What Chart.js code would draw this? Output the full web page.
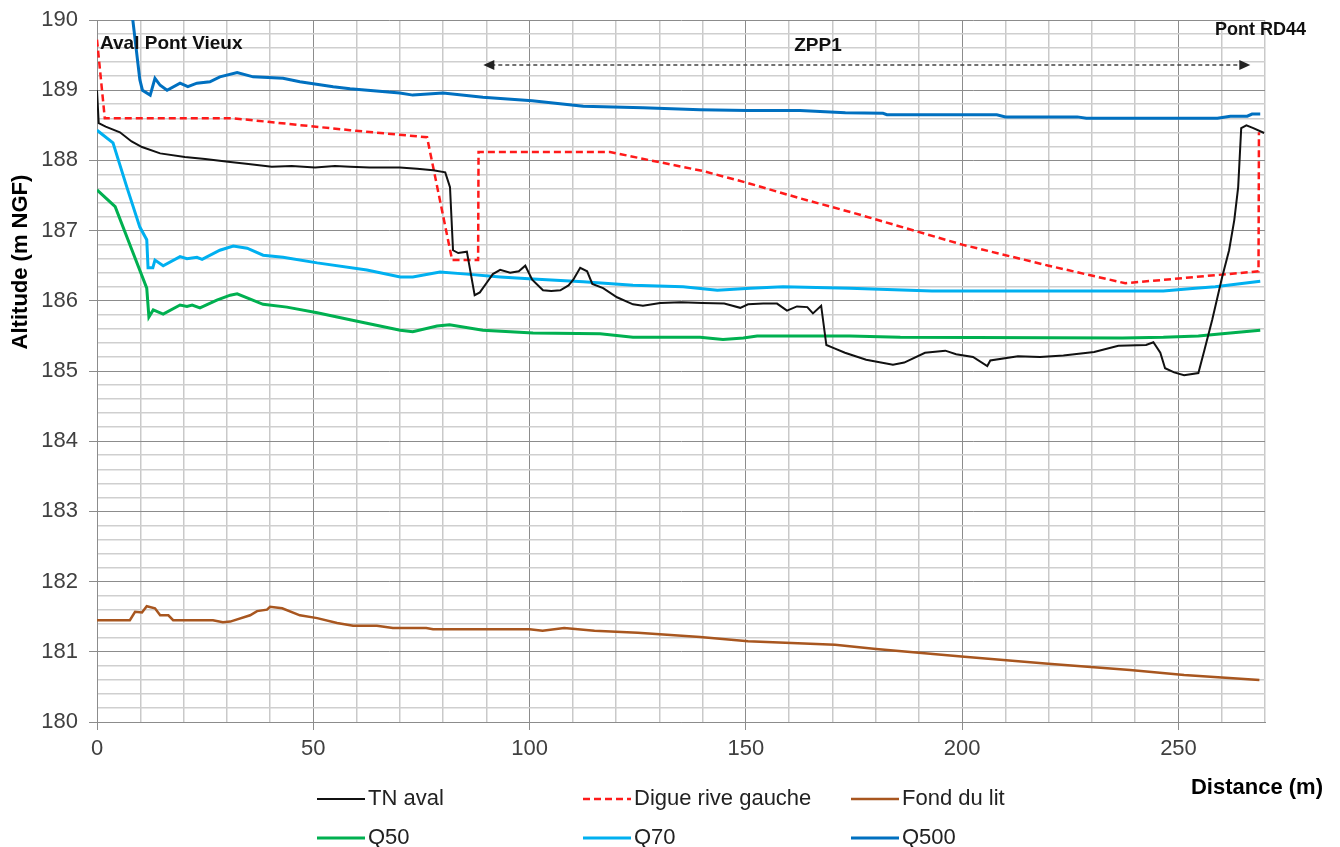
<!DOCTYPE html>
<html lang="fr">
<head>
<meta charset="UTF-8">
<title>Profil en long</title>
<script src="https://cdn.jsdelivr.net/npm/chart.js"></script>
<style>
  body { margin: 0; background: #fff; }
  canvas { display: block; }
</style>
</head>
<body>
<canvas id="profil" width="1340" height="847"></canvas>
<script>
// TN aval
const tnX = [0, 0.4, 2, 5.3, 8, 10.4, 14.6, 20.3, 25, 30.3, 35, 40.4, 45, 50.4, 55, 58.5, 63, 70, 74, 77.7, 80.5, 81.6, 82.3, 83.5, 85.5, 87.3, 88.5, 90, 91.5, 93.2, 95.5, 97.5, 99, 100.6, 103.1, 105, 107.1, 109, 110.1, 111.7, 113.3, 114.5, 117, 120.2, 123.9, 126.2, 130.2, 135, 140, 145, 148.7, 150.5, 154, 157.2, 159.5, 161.8, 164.2, 165.5, 167.4, 168.6, 170.2, 172.9, 177.8, 184, 186.6, 191.4, 196.1, 198.6, 202.5, 205.8, 206.5, 212.9, 218, 223.4, 230.5, 236.1, 242.5, 244.2, 245.8, 246.9, 249, 251.3, 254.6, 256, 257.8, 260.1, 261.7, 262.9, 263.8, 264.5, 265.7, 267.3, 269.8];
const tnY = [189.0, 188.53, 188.48, 188.4, 188.27, 188.19, 188.1, 188.05, 188.02, 187.98, 187.95, 187.91, 187.92, 187.9, 187.92, 187.91, 187.9, 187.9, 187.88, 187.86, 187.83, 187.62, 186.72, 186.68, 186.7, 186.08, 186.12, 186.25, 186.38, 186.44, 186.4, 186.42, 186.5, 186.3, 186.15, 186.14, 186.15, 186.22, 186.3, 186.47, 186.42, 186.24, 186.18, 186.05, 185.95, 185.93, 185.97, 185.98, 185.97, 185.96, 185.9, 185.95, 185.96, 185.96, 185.86, 185.92, 185.91, 185.82, 185.93, 185.37, 185.33, 185.26, 185.16, 185.09, 185.12, 185.26, 185.29, 185.24, 185.2, 185.07, 185.15, 185.21, 185.2, 185.22, 185.27, 185.36, 185.37, 185.41, 185.26, 185.04, 184.98, 184.94, 184.97, 185.3, 185.73, 186.34, 186.72, 187.15, 187.62, 188.46, 188.5, 188.46, 188.39];

// Digue rive gauche
const digueX = [0, 1.8, 31.5, 58.5, 76.3, 82.1, 88.1, 88.2, 118.6, 128, 140, 150.3, 162.5, 175, 200, 220, 237.7, 268.5, 268.6];
const digueY = [189.72, 188.6, 188.6, 188.43, 188.33, 186.58, 186.58, 188.12, 188.12, 188.0, 187.85, 187.68, 187.46, 187.25, 186.8, 186.5, 186.25, 186.42, 188.4];

// Fond du lit
const fondX = [0, 7.6, 8.8, 10.4, 11.5, 13.4, 14.6, 16.5, 17.6, 26.8, 29.1, 30.8, 35.4, 37, 39.3, 40, 42.8, 46.9, 50.9, 55.5, 59.2, 64.7, 68.4, 76.1, 77.7, 100, 103, 108, 115, 125, 139.4, 150.5, 170.6, 180.1, 200.5, 219.9, 238.8, 251.3, 268.7];
const fondY = [181.45, 181.45, 181.57, 181.56, 181.65, 181.62, 181.52, 181.52, 181.45, 181.45, 181.42, 181.43, 181.52, 181.58, 181.6, 181.64, 181.62, 181.52, 181.48, 181.41, 181.37, 181.37, 181.34, 181.34, 181.32, 181.32, 181.3, 181.34, 181.3, 181.27, 181.21, 181.15, 181.1, 181.04, 180.93, 180.83, 180.74, 180.67, 180.6];

// Q50
const q50X = [0, 4.2, 8.1, 11.5, 12, 13, 15.3, 19.2, 20.8, 22, 23.8, 27.7, 30.8, 32.4, 38.4, 43.9, 50.9, 58.5, 70.1, 73, 78.6, 81.5, 89.2, 100.8, 116.3, 123.9, 139.4, 144.7, 149.4, 152.6, 174, 185.7, 237, 246.5, 254.6, 260.1, 268.9];
const q50Y = [187.58, 187.34, 186.72, 186.18, 185.77, 185.87, 185.81, 185.94, 185.92, 185.94, 185.9, 186.01, 186.08, 186.1, 185.95, 185.91, 185.83, 185.73, 185.58, 185.56, 185.64, 185.66, 185.58, 185.54, 185.53, 185.48, 185.48, 185.45, 185.47, 185.5, 185.5, 185.48, 185.47, 185.48, 185.5, 185.53, 185.58];

// Q70
const q70X = [0, 3.7, 6.9, 9.9, 11.5, 11.8, 12.9, 13.4, 15.3, 19.2, 20.8, 23.1, 24.3, 28.4, 31.5, 34.7, 38.4, 43, 50.9, 62.4, 70.1, 73, 79.3, 85.5, 93.2, 100.8, 112.4, 123.9, 135.5, 143.4, 151, 158.6, 174, 193, 246.5, 253.9, 258.5, 268.9];
const q70Y = [188.43, 188.25, 187.62, 187.05, 186.87, 186.47, 186.47, 186.58, 186.5, 186.63, 186.6, 186.62, 186.59, 186.72, 186.78, 186.75, 186.65, 186.62, 186.54, 186.44, 186.34, 186.34, 186.41, 186.38, 186.34, 186.31, 186.27, 186.22, 186.2, 186.15, 186.18, 186.2, 186.18, 186.14, 186.14, 186.18, 186.2, 186.28];

// Q500
const q500X = [7.8, 9.9, 10.5, 12.3, 13.4, 14.6, 16.2, 19.2, 21, 23.1, 26.1, 28.4, 32.4, 36.1, 43, 46.9, 54.6, 58.5, 70, 73, 80, 89.2, 100.6, 112.4, 126.2, 139.4, 150.3, 162.5, 173, 181.7, 182.6, 208, 210, 226.6, 228.7, 240, 259, 262, 265.9, 267, 268.9];
const q500Y = [190.25, 189.15, 189.0, 188.93, 189.17, 189.07, 189.0, 189.1, 189.05, 189.1, 189.12, 189.19, 189.25, 189.19, 189.17, 189.12, 189.05, 189.02, 188.96, 188.93, 188.96, 188.9, 188.85, 188.77, 188.75, 188.72, 188.71, 188.71, 188.68, 188.67, 188.65, 188.65, 188.62, 188.62, 188.6, 188.6, 188.6, 188.63, 188.63, 188.66, 188.66];

const FONT = '"Liberation Sans", Arial, sans-serif';

function pts(xs, ys) {
  return xs.map((x, i) => ({ x: x, y: ys[i] }));
}

const isInt = v => Math.abs(v - Math.round(v)) < 1e-6;

// legend order: 2 rows x 3 columns
const legendCols = [317, 583, 851];
const legendRows = [799, 838];

const extras = {
  id: 'extras',
  afterDraw(chart) {
    const c = chart.ctx;
    const xs = chart.scales.x, ys = chart.scales.y;
    c.save();

    // texts inside the plot
    c.fillStyle = '#111';
    c.font = 'bold 19px ' + FONT;
    c.textBaseline = 'middle';
    c.textAlign = 'left';
    c.fillText('Aval Pont Vieux', 100, 44);
    c.font = 'bold 18px ' + FONT;
    c.fillText('Pont RD44', 1215, 30);
    c.font = 'bold 19px ' + FONT;
    c.textAlign = 'center';
    c.fillText('ZPP1', 818, 46);

    // ZPP1 arrow
    const ay = ys.getPixelForValue(189.36);
    const ax1 = xs.getPixelForValue(89.3), ax2 = xs.getPixelForValue(266.6);
    c.strokeStyle = '#444';
    c.lineWidth = 1.5;
    c.setLineDash([4, 3]);
    c.beginPath();
    c.moveTo(ax1 + 8, ay);
    c.lineTo(ax2 - 8, ay);
    c.stroke();
    c.setLineDash([]);
    c.fillStyle = '#222';
    c.beginPath();
    c.moveTo(ax1, ay); c.lineTo(ax1 + 11, ay - 5); c.lineTo(ax1 + 11, ay + 5); c.closePath();
    c.fill();
    c.beginPath();
    c.moveTo(ax2, ay); c.lineTo(ax2 - 11, ay - 5); c.lineTo(ax2 - 11, ay + 5); c.closePath();
    c.fill();

    // axis titles
    c.fillStyle = '#000';
    c.font = 'bold 22px ' + FONT;
    c.textAlign = 'right';
    c.fillText('Distance (m)', 1323, 788);
    c.save();
    c.translate(21, 262);
    c.rotate(-Math.PI / 2);
    c.textAlign = 'center';
    c.fillText('Altitude (m NGF)', 0, 0);
    c.restore();

    // legend
    c.font = '22px ' + FONT;
    c.textAlign = 'left';
    chart.data.datasets.forEach((ds, i) => {
      const lx = legendCols[i % 3], ly = legendRows[Math.floor(i / 3)];
      c.strokeStyle = ds.borderColor;
      c.lineWidth = ds.borderWidth;
      c.setLineDash(ds.borderDash || []);
      c.beginPath();
      c.moveTo(lx, ly);
      c.lineTo(lx + 48, ly);
      c.stroke();
      c.setLineDash([]);
      c.fillStyle = '#222';
      c.fillText(ds.label, lx + 51, ly);
    });

    c.restore();
  }
};

new Chart(document.getElementById('profil'), {
  type: 'line',
  data: {
    datasets: [
      { label: 'TN aval', data: pts(tnX, tnY), borderColor: '#111111', borderWidth: 2 },
      { label: 'Digue rive gauche', data: pts(digueX, digueY), borderColor: '#ff1a1a', borderWidth: 2.5, borderDash: [7, 4] },
      { label: 'Fond du lit', data: pts(fondX, fondY), borderColor: '#a8561f', borderWidth: 2.5 },
      { label: 'Q50', data: pts(q50X, q50Y), borderColor: '#00b050', borderWidth: 3 },
      { label: 'Q70', data: pts(q70X, q70Y), borderColor: '#00b0f0', borderWidth: 3 },
      { label: 'Q500', data: pts(q500X, q500Y), borderColor: '#0070c0', borderWidth: 3 }
    ]
  },
  options: {
    responsive: false,
    animation: false,
    layout: { padding: { top: 20, right: 75, left: 0, bottom: 0 } },
    elements: { point: { radius: 0 }, line: { tension: 0 } },
    plugins: { legend: { display: false }, tooltip: { enabled: false } },
    scales: {
      x: {
        type: 'linear', min: 0, max: 270,
        afterFit: s => { s.height = 125; s.paddingLeft = 0; s.paddingRight = 0; },
        ticks: {
          stepSize: 10, autoSkip: false, maxRotation: 0, padding: 6,
          color: '#404040', font: { family: FONT, size: 22 },
          callback: v => (Math.round(v) % 50 === 0 ? Math.round(v) : '')
        },
        grid: {
          color: c => (c.tick && Math.round(c.tick.value) % 50 === 0 ? '#8c8c8c' : '#c9c9c9'),
          lineWidth: c => (c.tick && Math.round(c.tick.value) % 50 === 0 ? 1 : 1.5),
          tickLength: 8,
          tickColor: c => (c.tick && Math.round(c.tick.value) % 50 === 0 ? '#8c8c8c' : 'rgba(0,0,0,0)')
        },
        border: { color: '#8c8c8c', width: 1 }
      },
      y: {
        min: 180, max: 190,
        afterFit: s => { s.width = 97; s.paddingTop = 0; s.paddingBottom = 0; },
        ticks: {
          stepSize: 0.2, autoSkip: false, padding: 11,
          color: '#404040', font: { family: FONT, size: 22 },
          callback: v => (isInt(v) ? String(Math.round(v)) : '')
        },
        grid: {
          color: c => (c.tick && isInt(c.tick.value) ? '#8c8c8c' : '#cfcfcf'),
          lineWidth: c => (c.tick && isInt(c.tick.value) ? 1 : 1.5),
          tickLength: 8,
          tickColor: c => (c.tick && isInt(c.tick.value) ? '#8c8c8c' : 'rgba(0,0,0,0)')
        },
        border: { color: '#8c8c8c', width: 1 }
      }
    }
  },
  plugins: [extras]
});
</script>
</body>
</html>
